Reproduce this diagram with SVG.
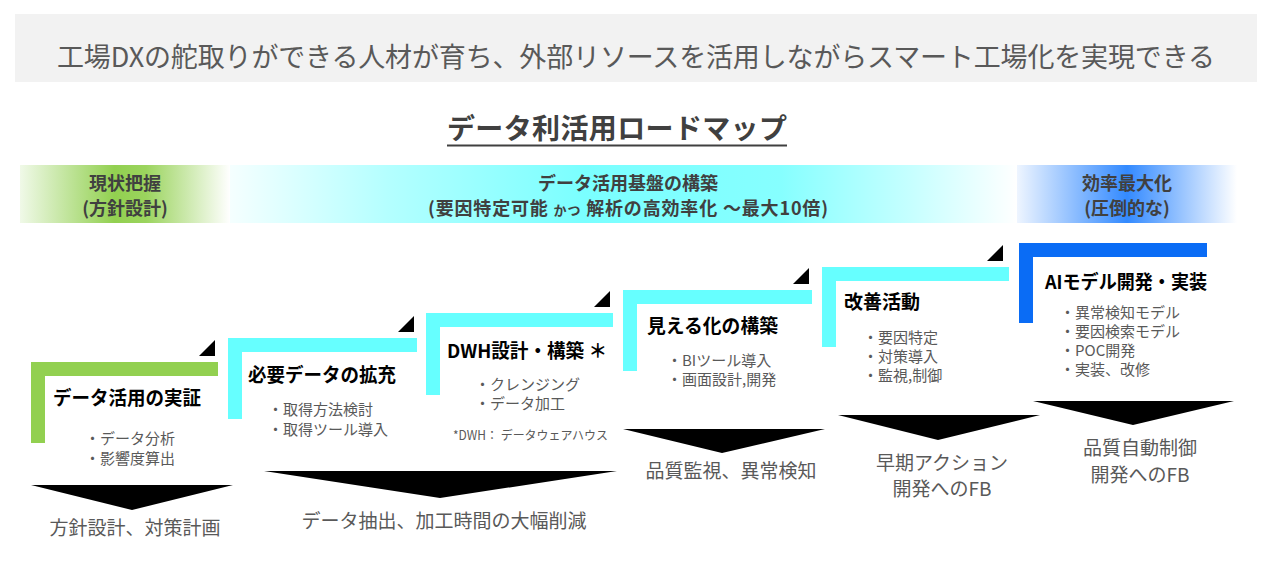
<svg xmlns="http://www.w3.org/2000/svg" width="1267" height="585" viewBox="0 0 1267 585">
<defs>
<linearGradient id="gGreen" x1="20" y1="0" x2="230" y2="0" gradientUnits="userSpaceOnUse">
<stop offset="0" stop-color="#f0f9e8"/><stop offset="0.45" stop-color="#92d050"/><stop offset="0.6" stop-color="#9bd45e"/><stop offset="1" stop-color="#ffffff"/>
</linearGradient>
<linearGradient id="gCyan" x1="230" y1="0" x2="1017" y2="0" gradientUnits="userSpaceOnUse">
<stop offset="0" stop-color="#f5ffff"/><stop offset="0.2" stop-color="#b4ffff"/><stop offset="0.45" stop-color="#7affff"/><stop offset="0.7" stop-color="#86ffff"/><stop offset="0.86" stop-color="#c4ffff"/><stop offset="1" stop-color="#ffffff"/>
</linearGradient>
<linearGradient id="gBlue" x1="1017" y1="0" x2="1237" y2="0" gradientUnits="userSpaceOnUse">
<stop offset="0" stop-color="#eef5ff"/><stop offset="0.5" stop-color="#338aff"/><stop offset="1" stop-color="#ffffff"/>
</linearGradient>
</defs>
<style>
text{font-family:"Noto Sans CJK JP","Noto Sans",sans-serif;}
.hdr{font-size:27px;fill:#595959;}
.ttl{font-size:28px;font-weight:700;fill:#404040;}
.band{font-size:18px;font-weight:700;fill:#404040;text-anchor:middle;}
.nt{font-size:19px;font-weight:700;fill:#000000;}
.bl{font-size:15px;fill:#595959;}
.note{font-size:12.5px;fill:#595959;}
.res{font-size:19px;fill:#595959;text-anchor:middle;}
.green{fill:#92d050;}
.cyan{fill:#66ffff;}
.blue{fill:#0a6cf5;}
.tri{fill:#000000;}
</style>
<rect width="1267" height="585" fill="#ffffff"/>
<g id="header">
<rect x="15" y="14" width="1242" height="68" fill="#f2f2f2"/>
<text class="hdr" x="636" y="67" text-anchor="middle" textLength="1158" lengthAdjust="spacing">工場DXの舵取りができる人材が育ち、外部リソースを活用しながらスマート工場化を実現できる</text>
</g>
<g id="title">
<text class="ttl" x="617" y="139" text-anchor="middle" textLength="340" lengthAdjust="spacing">データ利活用ロードマップ</text>
<line x1="447" y1="145.5" x2="787" y2="145.5" stroke="#404040" stroke-width="2"/>
</g>
<g id="phase-1">
<rect x="20" y="165" width="210" height="58" fill="url(#gGreen)"/>
<text class="band" x="125" y="190">現状把握</text>
<text class="band" x="125" y="215">(方針設計)</text>
</g>
<g id="phase-2">
<rect x="230" y="165" width="787" height="58" fill="url(#gCyan)"/>
<text class="band" x="628" y="190">データ活用基盤の構築</text>
<text class="band" x="628" y="215" textLength="400" lengthAdjust="spacing">(要因特定可能 <tspan font-size="13px">かつ</tspan> 解析の高効率化 ～最大10倍)</text>
</g>
<g id="phase-3">
<rect x="1017" y="165" width="220" height="58" fill="url(#gBlue)"/>
<text class="band" x="1127" y="190">効率最大化</text>
<text class="band" x="1127" y="215">(圧倒的な)</text>
</g>
<g id="step-1">
<path class="green" d="M31 362H218V376H45V443H31Z"/>
<path class="tri" d="M199 356L215 340V356Z"/>
<text class="nt" x="53" y="405" textLength="148" lengthAdjust="spacingAndGlyphs">データ活用の実証</text>
<text class="bl" x="85" y="444">・データ分析</text>
<text class="bl" x="85" y="464">・影響度算出</text>
<text class="res" x="135" y="535">方針設計、対策計画</text>
</g>
<g id="step-2">
<path class="cyan" d="M228 338H417V352H242V419H228Z"/>
<path class="tri" d="M398 332L414 316V332Z"/>
<text class="nt" x="248" y="382" textLength="148" lengthAdjust="spacingAndGlyphs">必要データの拡充</text>
<text class="bl" x="268" y="415">・取得方法検討</text>
<text class="bl" x="268" y="435">・取得ツール導入</text>
<text class="res" x="444" y="528">データ抽出、加工時間の大幅削減</text>
</g>
<g id="step-3">
<path class="cyan" d="M426 313H613V327H440V395H426Z"/>
<path class="tri" d="M594 307L610 291V307Z"/>
<text class="nt" x="447" y="358" textLength="160" lengthAdjust="spacingAndGlyphs">DWH設計・構築 ＊</text>
<text class="bl" x="475" y="390">・クレンジング</text>
<text class="bl" x="475" y="409">・データ加工</text>
<text class="note" x="453" y="440" textLength="155" lengthAdjust="spacingAndGlyphs">*DWH： データウェアハウス</text>
</g>
<g id="step-4">
<path class="cyan" d="M623 290H812V304H637V371H623Z"/>
<path class="tri" d="M793 284L809 268V284Z"/>
<text class="nt" x="647" y="333" textLength="131" lengthAdjust="spacingAndGlyphs">見える化の構築</text>
<text class="bl" x="667" y="366">・BIツール導入</text>
<text class="bl" x="667" y="385">・画面設計,開発</text>
<text class="res" x="731" y="478">品質監視、異常検知</text>
</g>
<g id="step-5">
<path class="cyan" d="M822 267H1009V281H836V347H822Z"/>
<path class="tri" d="M987 261L1003 245V261Z"/>
<text class="nt" x="844" y="309">改善活動</text>
<text class="bl" x="863" y="343">・要因特定</text>
<text class="bl" x="863" y="362">・対策導入</text>
<text class="bl" x="863" y="381">・監視,制御</text>
<text class="res" x="942" y="470">早期アクション</text>
<text class="res" x="942" y="496">開発へのFB</text>
</g>
<g id="step-6">
<path class="blue" d="M1019 243H1207V257H1033V323H1019Z"/>
<text class="nt" x="1045" y="289" textLength="162" lengthAdjust="spacingAndGlyphs">AIモデル開発・実装</text>
<text class="bl" x="1060" y="318">・異常検知モデル</text>
<text class="bl" x="1060" y="337">・要因検索モデル</text>
<text class="bl" x="1060" y="356">・POC開発</text>
<text class="bl" x="1060" y="375">・実装、改修</text>
<text class="res" x="1140" y="455">品質自動制御</text>
<text class="res" x="1140" y="482">開発へのFB</text>
</g>
<g id="connectors">
<path class="tri" d="M31 485H233L132 510Z"/>
<path class="tri" d="M264 471H617L440 498Z"/>
<path class="tri" d="M623 429H825L722 453Z"/>
<path class="tri" d="M838 415H1040L938 440Z"/>
<path class="tri" d="M1033 401H1234L1133 425Z"/>
</g>
</svg>
